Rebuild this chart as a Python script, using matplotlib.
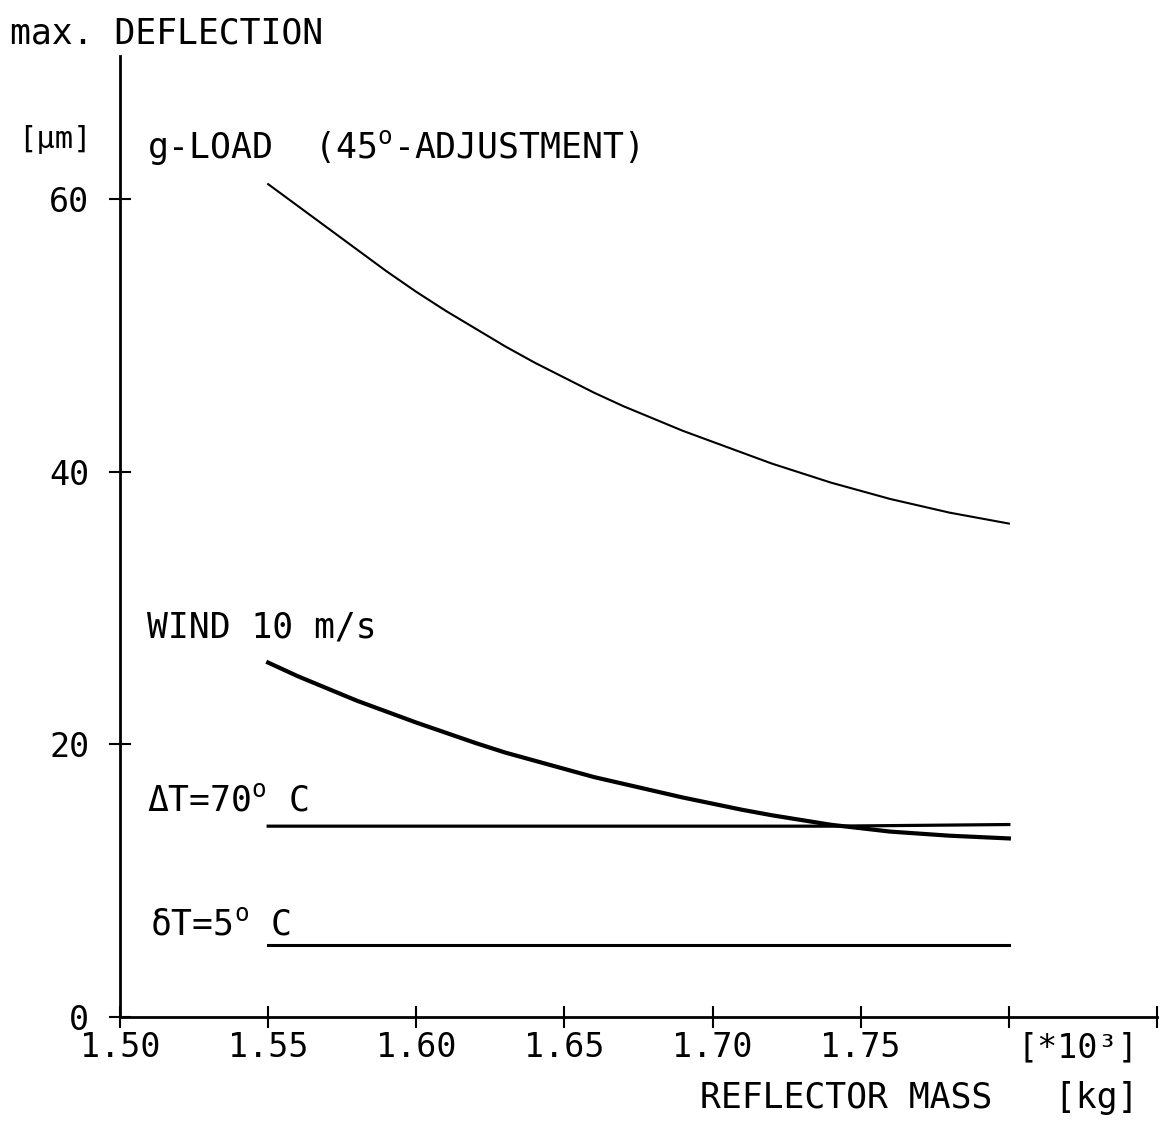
"""Max. deflection of the reflector vs. reflector mass (plotter style chart)."""

import matplotlib

matplotlib.use("Agg")
import matplotlib.pyplot as plt

# Reflector mass [*10^3 kg], read every 0.01
mass = [1.55, 1.56, 1.57, 1.58, 1.59, 1.60, 1.61, 1.62, 1.63, 1.64, 1.65,
        1.66, 1.67, 1.68, 1.69, 1.70, 1.71, 1.72, 1.73, 1.74, 1.75,
        1.76, 1.77, 1.78, 1.79, 1.80]

# Max. deflection [um]
g_load = [61.1, 59.5, 57.9, 56.3, 54.7, 53.2, 51.8, 50.5, 49.2, 48.0, 46.9,
          45.8, 44.8, 43.9, 43.0, 42.2, 41.4, 40.6, 39.9, 39.2, 38.6,
          38.0, 37.5, 37.0, 36.6, 36.2]
wind = [26.0, 25.0, 24.1, 23.2, 22.4, 21.6, 20.85, 20.1, 19.4, 18.8, 18.2,
        17.6, 17.1, 16.6, 16.1, 15.65, 15.2, 14.8, 14.45, 14.1, 13.85,
        13.6, 13.45, 13.3, 13.2, 13.1]
delta_t70 = [14.0] * 20 + [14.02, 14.04, 14.06, 14.08, 14.1, 14.12]
delta_t5 = [5.3] * 26

x_ticks = [1.50, 1.55, 1.60, 1.65, 1.70, 1.75, 1.80, 1.85]
x_tick_labels = ["1.50", "1.55", "1.60", "1.65", "1.70", "1.75", "", ""]
y_ticks = [0, 20, 40, 60]

plt.rcParams["font.family"] = ["DejaVu Sans Mono", "DejaVu Sans"]
plt.rcParams["mathtext.fontset"] = "custom"
plt.rcParams["mathtext.rm"] = "DejaVu Sans Mono"

FS = 25

fig = plt.figure(figsize=(11.65, 11.25), dpi=100)
ax = fig.add_axes([120 / 1165, 108 / 1125, 1037 / 1165, 961 / 1125])

ax.plot(mass, g_load, color="black", lw=1.5)
ax.plot(mass, wind, color="black", lw=3.0)
ax.plot(mass, delta_t70, color="black", lw=2.3)
ax.plot(mass, delta_t5, color="black", lw=2.2)

ax.set_xlim(1.50, 1.85)
ax.set_ylim(0, 70.5)

for side in ("top", "right"):
    ax.spines[side].set_visible(False)
for side in ("left", "bottom"):
    ax.spines[side].set_linewidth(2.0)

ax.set_xticks(x_ticks)
ax.set_xticklabels(x_tick_labels)
ax.set_yticks(y_ticks)
ax.tick_params(direction="inout", length=16, width=1.5, labelsize=24)
ax.tick_params(axis="x", pad=2)
ax.tick_params(axis="y", pad=14)

# series labels
ax.text(1.509, 63.8, "g-LOAD  (45$^{\\mathrm{o}}$-ADJUSTMENT)", fontsize=FS,
        va="center", ha="left")
ax.text(1.509, 28.6, "WIND 10 m/s", fontsize=FS, va="center", ha="left")
ax.text(1.509, 15.9, "ΔT=70$^{\\mathrm{o}}$ C", fontsize=FS, va="center", ha="left")
ax.text(1.510, 6.8, "δT=5$^{\\mathrm{o}}$ C", fontsize=FS, va="center", ha="left")

# axis titles
fig.text(10 / 1165, 1 - 33 / 1125, "max. DEFLECTION", fontsize=FS,
         va="center", ha="left")
fig.text(18 / 1165, 1 - 140 / 1125, "[µm]", fontsize=22, va="center", ha="left")
fig.text(1078 / 1165, 1 - 1048 / 1125, "[*10³]", fontsize=24, va="center", ha="center")
fig.text(1138 / 1165, 1 - 1098 / 1125, "REFLECTOR MASS   [kg]", fontsize=FS,
         va="center", ha="right")

fig.savefig("out.png", dpi=100)
